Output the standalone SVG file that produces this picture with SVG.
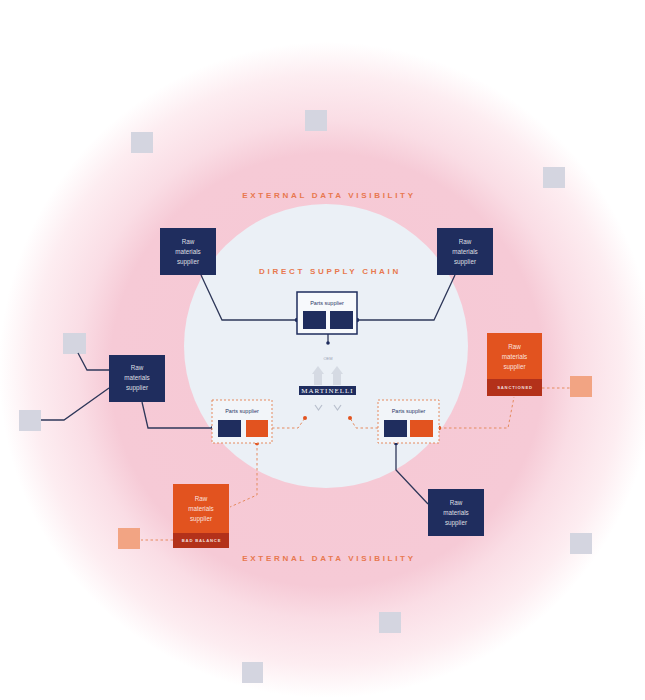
<svg xmlns="http://www.w3.org/2000/svg" width="645" height="700" viewBox="0 0 645 700">
<defs>
<radialGradient id="glow" cx="327" cy="370" r="328" gradientUnits="userSpaceOnUse">
<stop offset="0" stop-color="#f6c8d4"/>
<stop offset="0.66" stop-color="#f6cad6"/>
<stop offset="0.76" stop-color="#fadde5"/>
<stop offset="0.9" stop-color="#fdedf1"/>
<stop offset="1" stop-color="#ffffff"/>
</radialGradient>
<style>
.lbl{font-family:"Liberation Sans",Arial,sans-serif;font-weight:bold;font-size:8px;letter-spacing:2.7px;fill:#e8784f;text-anchor:middle}
.rt{font-family:"Liberation Sans",Arial,sans-serif;font-size:6.3px;fill:#ffffff;fill-opacity:0.85;text-anchor:middle}
.band{font-family:"Liberation Sans",Arial,sans-serif;font-weight:bold;font-size:4.2px;letter-spacing:0.8px;fill:#ffffff;fill-opacity:0.85;text-anchor:middle}
.pt{font-family:"Liberation Sans",Arial,sans-serif;font-size:5.5px;fill:#2a3566;text-anchor:middle}
.navy{fill:#1f2d5e}
.orng{fill:#e2531f}
.dark{fill:#b3311a}
.gsq{fill:#d4d5e0}
.osq{fill:#f2a483}
.ln{fill:none;stroke:#2e3759;stroke-width:1.3}
.dl{fill:none;stroke:#e58a5e;stroke-width:1;stroke-dasharray:2.5 2.5}
.nd{fill:#1f2d5e}
.od{fill:#e2531f}
</style>
</defs>
<rect width="645" height="700" fill="#ffffff"/>
<circle cx="327" cy="370" r="328" fill="url(#glow)"/>
<circle id="core" cx="326" cy="346" r="142" fill="#ebf0f6"/>

<g id="labels">
<text class="lbl" x="329" y="198">EXTERNAL DATA VISIBILITY</text>
<text class="lbl" x="330" y="274">DIRECT SUPPLY CHAIN</text>
<text class="lbl" x="329" y="561">EXTERNAL DATA VISIBILITY</text>
</g>

<g id="squares">
<rect class="gsq" x="305" y="110" width="22" height="21"/>
<rect class="gsq" x="131" y="132" width="22" height="21"/>
<rect class="gsq" x="543" y="167" width="22" height="21"/>
<rect class="gsq" x="63" y="333" width="23" height="21"/>
<rect class="gsq" x="19" y="410" width="22" height="21"/>
<rect class="gsq" x="570" y="533" width="22" height="21"/>
<rect class="gsq" x="379" y="612" width="22" height="21"/>
<rect class="gsq" x="242" y="662" width="21" height="21"/>
<rect class="osq" x="570" y="376" width="22" height="21"/>
<rect class="osq" x="118" y="528" width="22" height="21"/>
</g>

<g id="connectors">
<path class="ln" d="M201,275 L222,320 H297"/>
<path class="ln" d="M455,275 L434,320 H357"/>
<path class="ln" d="M142,402 L148,428 H213"/>
<path class="ln" d="M78,353 L87,370 H109"/>
<path class="ln" d="M41,420 H64 L109,388"/>
<path class="ln" d="M396,443 V470 L428,504"/>
<path class="ln" d="M328,334 V343"/>
<path class="dl" d="M439,428 H508 L514,397"/>
<path class="dl" d="M542,388 H570"/>
<path class="dl" d="M257,443 V495 L230,507"/>
<path class="dl" d="M173,540 H141"/>
<path class="dl" d="M272,428 H298 L305,418"/>
<path class="dl" d="M378,428 H356 L350,418"/>
<circle class="nd" cx="297" cy="320" r="2.2"/>
<circle class="nd" cx="357" cy="320" r="2.2"/>
<circle class="nd" cx="213" cy="428" r="2.2"/>
<circle class="nd" cx="396" cy="443" r="2.2"/>
<circle class="nd" cx="328" cy="343" r="1.8"/>
<circle class="od" cx="439" cy="428" r="2.2"/>
<circle class="od" cx="257" cy="443" r="2.2"/>
<circle class="od" cx="305" cy="418" r="2"/>
<circle class="od" cx="350" cy="418" r="2"/>
</g>

<g id="raw-top-left">
<rect class="navy" x="160" y="228" width="56" height="47"/>
<text class="rt" x="188" y="244">Raw</text>
<text class="rt" x="188" y="254">materials</text>
<text class="rt" x="188" y="264">supplier</text>
</g>
<g id="raw-top-right">
<rect class="navy" x="437" y="228" width="56" height="47"/>
<text class="rt" x="465" y="244">Raw</text>
<text class="rt" x="465" y="254">materials</text>
<text class="rt" x="465" y="264">supplier</text>
</g>
<g id="raw-left">
<rect class="navy" x="109" y="355" width="56" height="47"/>
<text class="rt" x="137" y="370">Raw</text>
<text class="rt" x="137" y="380">materials</text>
<text class="rt" x="137" y="390">supplier</text>
</g>
<g id="raw-bottom-right">
<rect class="navy" x="428" y="489" width="56" height="47"/>
<text class="rt" x="456" y="505">Raw</text>
<text class="rt" x="456" y="515">materials</text>
<text class="rt" x="456" y="525">supplier</text>
</g>
<g id="raw-sanctioned">
<rect class="orng" x="487" y="333" width="55" height="47"/>
<rect class="dark" x="487" y="379" width="55" height="17"/>
<text class="rt" x="514.5" y="349">Raw</text>
<text class="rt" x="514.5" y="359">materials</text>
<text class="rt" x="514.5" y="369">supplier</text>
<text class="band" x="515" y="389">SANCTIONED</text>
</g>
<g id="raw-bad-balance">
<rect class="orng" x="173" y="484" width="56" height="50"/>
<rect class="dark" x="173" y="533" width="56" height="15"/>
<text class="rt" x="201" y="501">Raw</text>
<text class="rt" x="201" y="511">materials</text>
<text class="rt" x="201" y="521">supplier</text>
<text class="band" x="201.5" y="542">BAD BALANCE</text>
</g>

<g id="parts-top">
<rect x="297" y="292" width="60" height="42" fill="#f7f9fc" stroke="#1f2d5e" stroke-width="1.5"/>
<text class="pt" x="327" y="305">Parts supplier</text>
<rect class="navy" x="303" y="311" width="23" height="18"/>
<rect class="navy" x="330" y="311" width="23" height="18"/>
</g>
<g id="parts-left">
<rect x="212" y="400" width="60" height="43" fill="#f2f5f9" stroke="#e58a5e" stroke-width="1" stroke-dasharray="2 2"/>
<text class="pt" x="242" y="413">Parts supplier</text>
<rect class="navy" x="218" y="420" width="23" height="17"/>
<rect class="orng" x="246" y="420" width="22" height="17"/>
</g>
<g id="parts-right">
<rect x="378" y="400" width="61" height="43" fill="#f2f5f9" stroke="#e58a5e" stroke-width="1" stroke-dasharray="2 2"/>
<text class="pt" x="408.5" y="413">Parts supplier</text>
<rect class="navy" x="384" y="420" width="23" height="17"/>
<rect class="orng" x="410" y="420" width="23" height="17"/>
</g>

<g id="oem">
<text x="328" y="360" font-family="Liberation Sans, Arial, sans-serif" font-size="4" fill="#9aa0b3" text-anchor="middle">OEM</text>
<path d="M318,366 L324,374 L322,374 L322,385 L314,385 L314,374 L312,374 Z" fill="#cfd4de" fill-opacity="0.8"/>
<path d="M337,366 L343,374 L341,374 L341,385 L333,385 L333,374 L331,374 Z" fill="#cfd4de" fill-opacity="0.8"/>
<rect class="navy" x="299" y="386" width="57" height="9"/>
<text x="327.5" y="393.2" font-family="Liberation Serif, Times New Roman, serif" font-size="7" letter-spacing="1" fill="#ffffff" text-anchor="middle">MARTINELLI</text>
<path d="M315,405 L318.5,410 L322,405" fill="none" stroke="#b8bfcc" stroke-width="1.2"/>
<path d="M334,405 L337.5,410 L341,405" fill="none" stroke="#b8bfcc" stroke-width="1.2"/>
</g>
</svg>
